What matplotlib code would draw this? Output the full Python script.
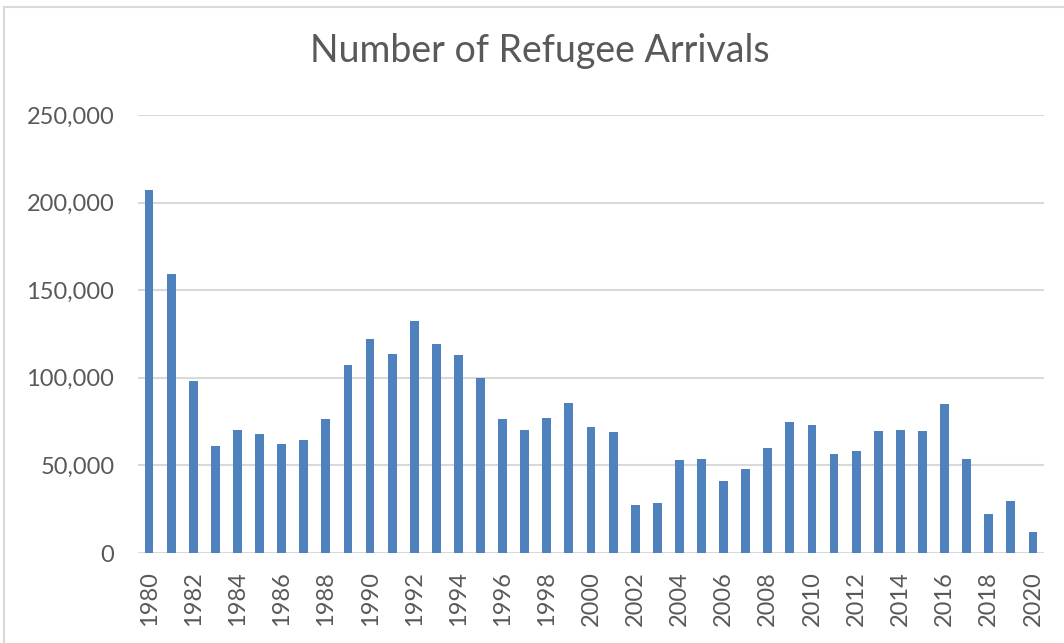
import matplotlib.pyplot as plt
from matplotlib.patches import Rectangle
from matplotlib.ticker import FuncFormatter

# refugee arrivals per year
years = list(range(1980, 2021))
arrivals = [207116, 159252, 98096, 61218, 70393, 67704, 62146, 64528, 76483,
            107070, 122066, 113389, 132531, 119448, 112981, 99974, 76403,
            70488, 77080, 85525, 72165, 68920, 27131, 28403, 52873, 53813,
            41223, 48218, 60107, 74602, 73293, 56384, 58179, 69909, 69975,
            69920, 84989, 53691, 22405, 29916, 11814]
yticks = [0, 50000, 100000, 150000, 200000, 250000]
title = 'Number of Refugee Arrivals'

text_color = '#595959'
grid_color = '#d9d9d9'
bar_color = '#4f81bd'

plt.rcParams['font.family'] = ['Lato', 'DejaVu Sans']

fig = plt.figure(figsize=(10.64, 6.43), dpi=100)

# excel-style chart outline, cut off at the right and bottom
fig.patches.append(Rectangle((4 / 1064, -0.1), 1.2, 1 - 7 / 643 + 0.1,
                             transform=fig.transFigure, fill=False,
                             edgecolor=grid_color, lw=1.5))

ax = fig.add_axes([138 / 1064, 1 - 553 / 643, (1044 - 138) / 1064,
                   (553 - 115) / 643])

pos = list(range(len(years)))
ax.bar(pos, arrivals, width=0.4, color=bar_color, zorder=3)

ax.set_xlim(-0.5, len(years) - 0.5)
ax.set_ylim(0, 250000)
ax.set_yticks(yticks)
ax.yaxis.set_major_formatter(FuncFormatter(lambda v, p: f'{int(v):,}'))
ax.set_xticks(pos[::2])
ax.set_xticklabels([str(y) for y in years[::2]], rotation=90)

ax.grid(axis='y', color=grid_color, lw=1.5, zorder=0)
for s in ax.spines.values():
    s.set_visible(False)
ax.tick_params(axis='y', length=0, pad=17, labelsize=17,
               labelcolor=text_color)
ax.tick_params(axis='x', length=0, pad=13, labelsize=17,
               labelcolor=text_color)

fig.text(540 / 1064, 1 - 51 / 643, title, ha='center', va='center',
         fontsize=27, color=text_color)

fig.savefig('out.png', dpi=100)
